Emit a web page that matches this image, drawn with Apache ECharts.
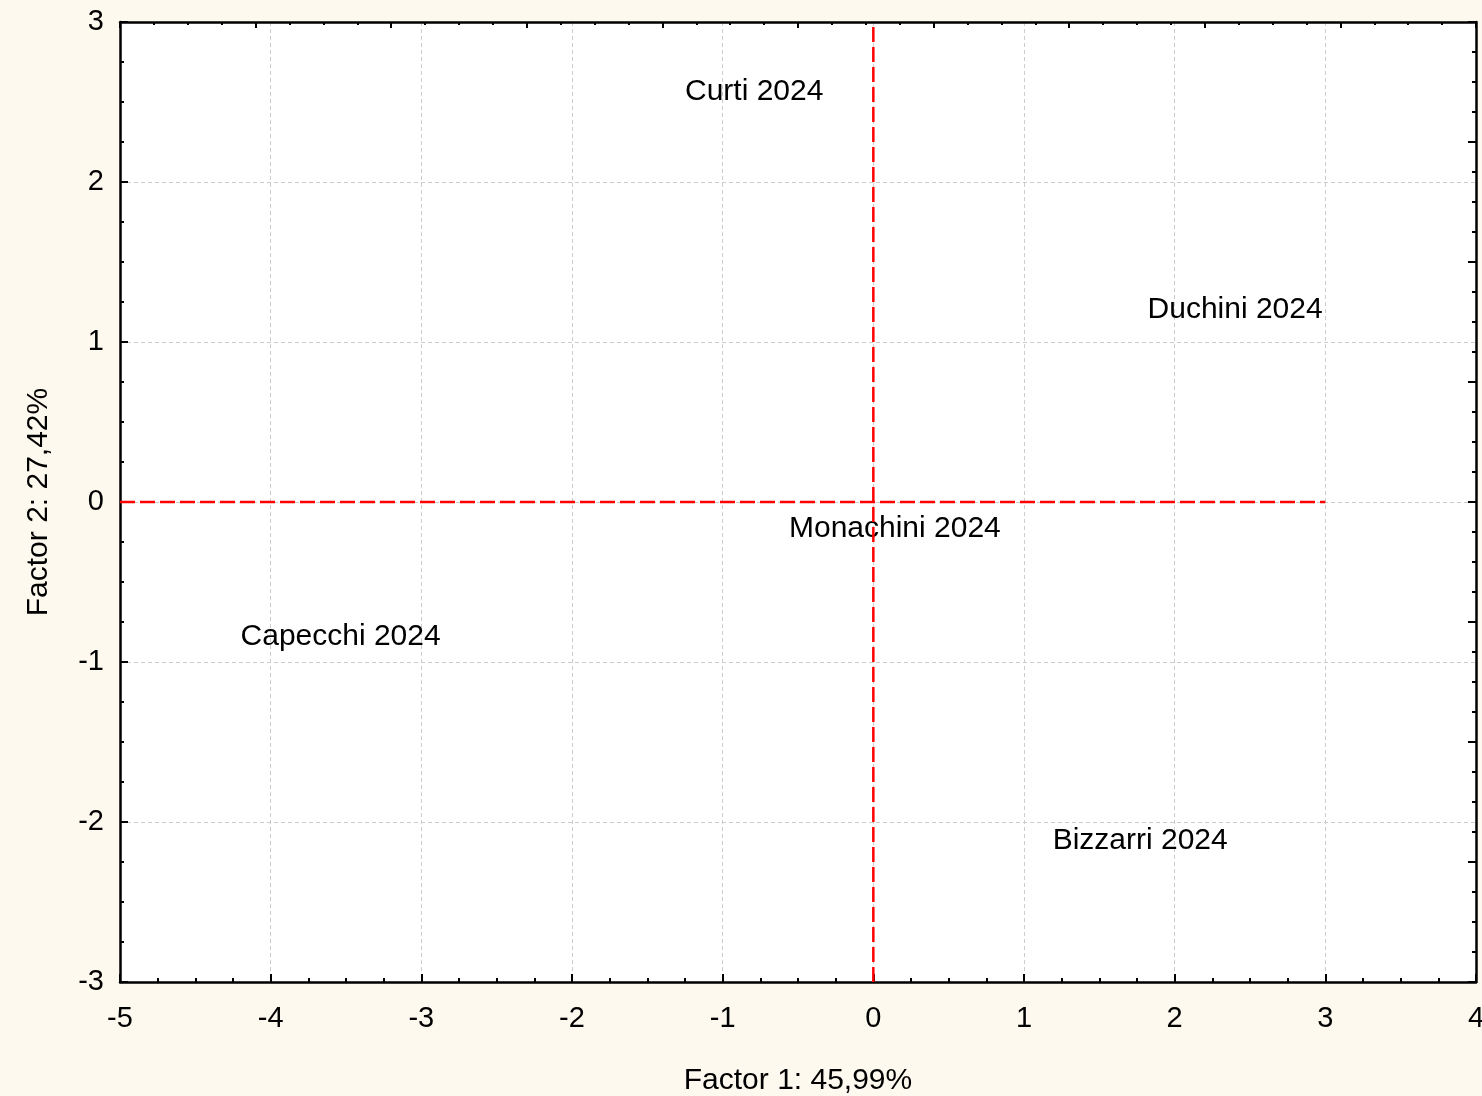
<!DOCTYPE html>
<html>
<head>
<meta charset="utf-8">
<script src="https://cdn.jsdelivr.net/npm/echarts@6/dist/echarts.min.js"></script>
<style>
html,body{margin:0;padding:0;background:#fef9ee;}
#c{width:1482px;height:1096px;}
</style>
</head>
<body>
<div id="c"></div>
<script>
var names = ['Curti 2024', 'Duchini 2024', 'Monachini 2024', 'Capecchi 2024', 'Bizzarri 2024'];
var factor1 = [-1.25, 1.82, -0.56, -4.20, 1.19];
var factor2 = [2.565, 1.20, -0.165, -0.84, -2.115];
var refLineH = [[-5, 0], [3, 0]];
var refLineV = [[0, -3], [0, 3]];
var xTitle = 'Factor 1: 45,99%';
var yTitle = 'Factor 2: 27,42%';

var FONT = '"Liberation Sans", Arial, sans-serif';
var points = names.map(function (n, i) { return { name: n, value: [factor1[i], factor2[i]] }; });

var chart = echarts.init(document.getElementById('c'), null, { renderer: 'canvas' });
chart.setOption({
  backgroundColor: '#fef9ee',
  animation: false,
  textStyle: { fontFamily: FONT },
  grid: {
    left: 120, right: 6, top: 22, bottom: 114,
    outerBoundsMode: 'none', containLabel: false,
    show: true, backgroundColor: '#ffffff', borderColor: '#000', borderWidth: 0
  },
  xAxis: [{
    type: 'value', position: 'bottom', min: -5, max: 4, interval: 1,
    name: xTitle, nameLocation: 'middle', nameGap: 84,
    nameTextStyle: { fontSize: 30, color: '#000', fontFamily: FONT },
    axisLine: { show: true, onZero: false, lineStyle: { color: '#000', width: 2.5 } },
    axisTick: { show: true, inside: true, length: 8, lineStyle: { color: '#000', width: 2 } },
    minorTick: { show: true, splitNumber: 4, length: 4, lineStyle: { color: '#000', width: 2 } },
    axisLabel: { fontSize: 29, color: '#000', margin: 22, fontFamily: FONT },
    splitLine: { show: true, lineStyle: { color: '#cccccc', type: [4, 3], width: 1 } }
  }, {
    type: 'value', position: 'top', min: 0, max: 10, interval: 1,
    axisLine: { show: true, onZero: false, lineStyle: { color: '#000', width: 2.5 } },
    axisTick: { show: true, inside: true, length: 6, lineStyle: { color: '#000', width: 2 } },
    minorTick: { show: true, splitNumber: 4, length: 3, lineStyle: { color: '#000', width: 2 } },
    axisLabel: { show: false },
    splitLine: { show: false }
  }],
  yAxis: [{
    type: 'value', position: 'left', min: -3, max: 3, interval: 1,
    name: yTitle, nameLocation: 'middle', nameGap: 66, nameRotate: 90,
    nameTextStyle: { fontSize: 30, color: '#000', fontFamily: FONT },
    axisLine: { show: true, onZero: false, lineStyle: { color: '#000', width: 2.5 } },
    axisTick: { show: true, inside: true, length: 8, lineStyle: { color: '#000', width: 2 } },
    minorTick: { show: true, splitNumber: 4, length: 4, lineStyle: { color: '#000', width: 2 } },
    axisLabel: { fontSize: 29, color: '#000', margin: 16, fontFamily: FONT },
    splitLine: { show: true, lineStyle: { color: '#cccccc', type: [4, 3], width: 1 } }
  }, {
    type: 'value', position: 'right', min: 0, max: 8, interval: 1,
    axisLine: { show: true, onZero: false, lineStyle: { color: '#000', width: 2.5 } },
    axisTick: { show: true, inside: true, length: 8, lineStyle: { color: '#000', width: 2 } },
    minorTick: { show: true, splitNumber: 4, length: 4, lineStyle: { color: '#000', width: 2 } },
    axisLabel: { show: false },
    splitLine: { show: false }
  }],
  series: [{
    type: 'scatter', xAxisIndex: 0, yAxisIndex: 0,
    data: points, symbolSize: 0,
    itemStyle: { color: '#ffffff', opacity: 1 },
    label: {
      show: true, position: 'right', distance: 0, opacity: 1,
      formatter: '{b}', fontSize: 30, color: '#000000', fontFamily: FONT,
      textBorderWidth: 0
    },
    emphasis: { disabled: true },
    z: 3
  }, {
    type: 'line', xAxisIndex: 0, yAxisIndex: 0, data: refLineH,
    symbol: 'none', lineStyle: { color: '#ff0000', width: 2.5, type: [15, 5] }, z: 4
  }, {
    type: 'line', xAxisIndex: 0, yAxisIndex: 0, data: refLineV,
    symbol: 'none', lineStyle: { color: '#ff0000', width: 2.5, type: [15, 5] }, z: 4
  }]
});
</script>
</body>
</html>
